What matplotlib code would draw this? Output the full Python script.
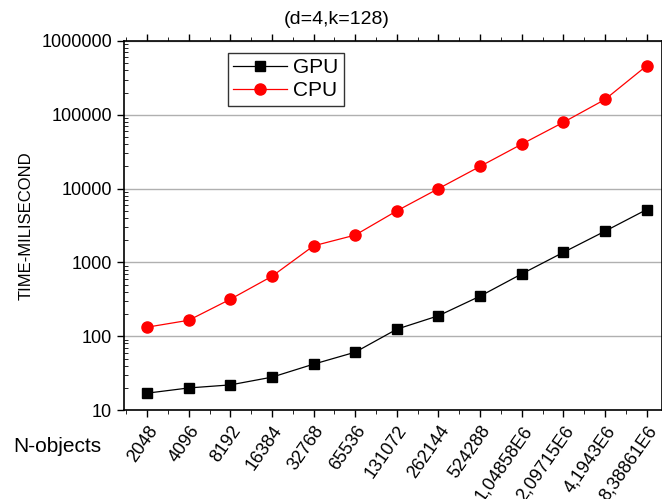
import matplotlib.pyplot as plt
from matplotlib.ticker import FixedLocator, LogLocator, NullFormatter

plt.rcParams['font.family'] = ['Liberation Sans', 'DejaVu Sans']

# Datos del grafico
etiquetas = ['2048', '4096', '8192', '16384', '32768', '65536', '131072',
             '262144', '524288', '1,04858E6', '2,09715E6', '4,1943E6', '8,38861E6']
gpu = [17, 20, 22, 28, 42, 61, 125, 190, 350, 700, 1370, 2650, 5200]
cpu = [133, 165, 318, 650, 1680, 2350, 5000, 10000, 20000, 40000, 79000, 161000, 460000]

x = list(range(len(etiquetas)))

fig = plt.figure(figsize=(6.62, 4.99), dpi=100)
ax = fig.add_axes([0.187, 0.178, 0.813, 0.740])

ax.plot(x, gpu, 'k-', marker='s', markersize=7.5, linewidth=0.9, label='GPU')
ax.plot(x, cpu, color='red', marker='o', markersize=8, linewidth=0.9, label='CPU')

ax.set_yscale('log')
ax.set_ylim(10, 1000000)
ax.set_xlim(-0.56, 12.37)

ax.yaxis.grid(True, which='major', color='#b0b0b0', linewidth=1)
ax.set_axisbelow(True)

ax.set_yticks([10, 100, 1000, 10000, 100000, 1000000])
ax.set_yticklabels(['10', '100', '1000', '10000', '100000', '1000000'])
ax.yaxis.set_minor_locator(LogLocator(base=10, subs=range(2, 10)))
ax.yaxis.set_minor_formatter(NullFormatter())

ax.set_xticks(x)
ax.set_xticklabels(etiquetas, rotation=55, ha='right', rotation_mode='anchor')
ax.xaxis.set_minor_locator(FixedLocator([i + 0.5 for i in range(-1, 13)]))

ax.tick_params(axis='both', which='major', labelsize=13, direction='out', length=5, width=1, top=True)
ax.tick_params(axis='x', which='major', pad=4)
ax.tick_params(axis='x', which='minor', direction='out', length=3, top=True)
ax.tick_params(axis='y', which='minor', direction='in', length=3)

for s in ax.spines.values():
    s.set_linewidth(1.2)

ax.set_ylabel('TIME-MILISECOND', fontsize=12)
ax.yaxis.set_label_coords(-0.168, 0.5)
fig.text(337 / 662, 1 - 20 / 499, '(d=4,k=128)', fontsize=14, ha='center', va='center')
fig.text(0.087, 0.105, 'N-objects', fontsize=15, ha='center', va='center')

ax.legend(loc='upper left', bbox_to_anchor=(0.193, 0.967), fontsize=15, frameon=True,
          fancybox=False, edgecolor='black', borderpad=0.25, handlelength=2.6,
          handletextpad=0.3, labelspacing=0.2, borderaxespad=0)

fig.savefig('out.png', dpi=100)
